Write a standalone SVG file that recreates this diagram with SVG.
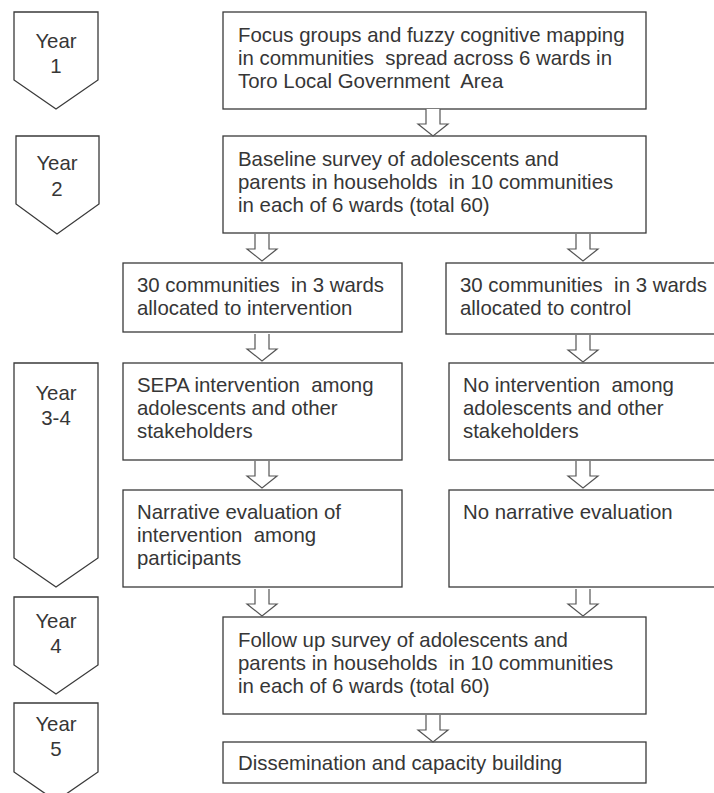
<svg xmlns="http://www.w3.org/2000/svg" xmlns:xlink="http://www.w3.org/1999/xlink" width="714" height="793" viewBox="0 0 714 793">
<style>
.box{fill:#fff;stroke:#3a3a3a;stroke-width:1.3}
.yr{fill:#fff;stroke:#3a3a3a;stroke-width:1.3}
.t{font-family:"Liberation Sans",Arial,sans-serif;font-size:20.4px;fill:#363636;white-space:pre}
.c{text-anchor:middle}
.arr{fill:#fff;stroke:#555;stroke-width:1.2;stroke-linejoin:miter}
</style>
<defs>
<path id="blk" d="M-7,-27 V-12 H-15 L0,0 L15,-12 H7 V-27"/>
</defs>
<rect width="714" height="793" fill="#fff"/>

<g id="year1"><polygon class="yr" points="14,12 98,12 98,80 56,109 14,80"/><text class="t c" x="56" y="48">Year</text><text class="t c" x="56" y="73">1</text></g>
<g id="year2"><polygon class="yr" points="16,136 99,136 99,204 57,234 16,204"/><text class="t c" x="57" y="170">Year</text><text class="t c" x="57" y="196">2</text></g>
<g id="year34"><polygon class="yr" points="14,363 98,363 98,558 56,587 14,558"/><text class="t c" x="56" y="400">Year</text><text class="t c" x="56" y="425">3-4</text></g>
<g id="year4"><polygon class="yr" points="14,597 98,597 98,665 56,694 14,665"/><text class="t c" x="56" y="628">Year</text><text class="t c" x="56" y="653">4</text></g>
<g id="year5"><polygon class="yr" points="14,703 98,703 98,772 56,801 14,772"/><text class="t c" x="56" y="731">Year</text><text class="t c" x="56" y="756">5</text></g>

<g id="n1"><rect class="box" x="223" y="12" width="423" height="97"/>
<text class="t" x="238" y="42">Focus groups and fuzzy cognitive mapping</text>
<text class="t" x="238" y="65">in communities  spread across 6 wards in</text>
<text class="t" x="238" y="88">Toro Local Government  Area</text></g>

<g id="n2"><rect class="box" x="223" y="136" width="423" height="97"/>
<text class="t" x="238" y="166">Baseline survey of adolescents and</text>
<text class="t" x="238" y="189">parents in households  in 10 communities</text>
<text class="t" x="238" y="212">in each of 6 wards (total 60)</text></g>

<g id="n3"><rect class="box" x="123" y="263" width="279" height="69"/>
<text class="t" x="137" y="292">30 communities  in 3 wards</text>
<text class="t" x="137" y="315">allocated to intervention</text></g>

<g id="n4"><rect class="box" x="446" y="263" width="280" height="71"/>
<text class="t" x="460" y="292">30 communities  in 3 wards</text>
<text class="t" x="460" y="315">allocated to control</text></g>

<g id="n5"><rect class="box" x="123" y="363" width="279" height="97"/>
<text class="t" x="137" y="392">SEPA intervention  among</text>
<text class="t" x="137" y="415">adolescents and other</text>
<text class="t" x="137" y="438">stakeholders</text></g>

<g id="n6"><rect class="box" x="449" y="363" width="280" height="97"/>
<text class="t" x="463" y="392">No intervention  among</text>
<text class="t" x="463" y="415">adolescents and other</text>
<text class="t" x="463" y="438">stakeholders</text></g>

<g id="n7"><rect class="box" x="123" y="490" width="279" height="97"/>
<text class="t" x="137" y="519">Narrative evaluation of</text>
<text class="t" x="137" y="542">intervention  among</text>
<text class="t" x="137" y="565">participants</text></g>

<g id="n8"><rect class="box" x="449" y="490" width="280" height="97"/>
<text class="t" x="463" y="519">No narrative evaluation</text></g>

<g id="n9"><rect class="box" x="223" y="617" width="423" height="97"/>
<text class="t" x="238" y="647">Follow up survey of adolescents and</text>
<text class="t" x="238" y="670">parents in households  in 10 communities</text>
<text class="t" x="238" y="693">in each of 6 wards (total 60)</text></g>

<g id="n10"><rect class="box" x="223" y="742" width="423" height="41"/>
<text class="t" x="238" y="770">Dissemination and capacity building</text></g>

<g id="connectors">
<use class="arr" xlink:href="#blk" href="#blk" transform="translate(433,136)"/>
<use class="arr" xlink:href="#blk" href="#blk" transform="translate(262,261)"/>
<use class="arr" xlink:href="#blk" href="#blk" transform="translate(583,261)"/>
<use class="arr" xlink:href="#blk" href="#blk" transform="translate(262,361)"/>
<use class="arr" xlink:href="#blk" href="#blk" transform="translate(583,362)"/>
<use class="arr" xlink:href="#blk" href="#blk" transform="translate(262,488)"/>
<use class="arr" xlink:href="#blk" href="#blk" transform="translate(583,488)"/>
<use class="arr" xlink:href="#blk" href="#blk" transform="translate(262,616)"/>
<use class="arr" xlink:href="#blk" href="#blk" transform="translate(583,616)"/>
<use class="arr" xlink:href="#blk" href="#blk" transform="translate(433,742)"/>
</g>
</svg>
